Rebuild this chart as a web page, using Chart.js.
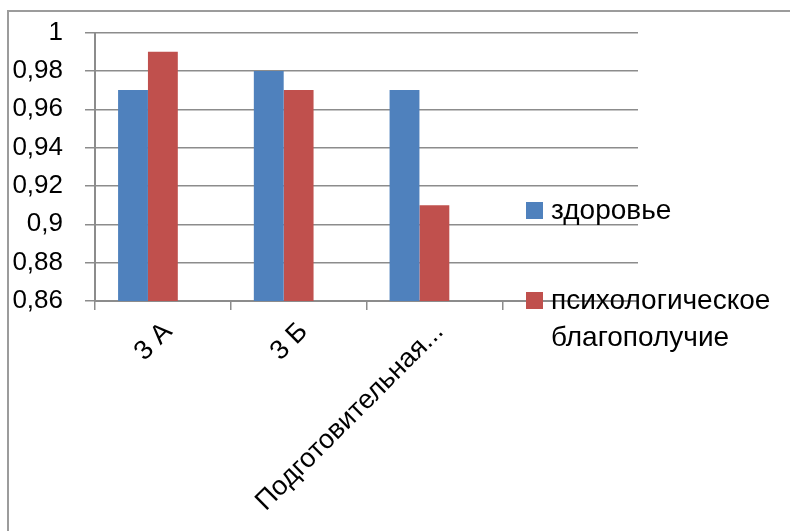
<!DOCTYPE html>
<html>
<head>
<meta charset="utf-8">
<script src="https://cdn.jsdelivr.net/npm/chart.js@4"></script>
<style>
  body { margin: 0; background: #fff; }
  #frame { position: absolute; left: 7px; top: 10px; width: 900px; height: 700px;
           border-left: 2px solid #9c9c9c; border-top: 2px solid #9c9c9c; }
  #wrap { position: absolute; left: 0; top: 0; width: 790px; height: 531px; overflow: hidden; }
  canvas { position: absolute; left: 0; top: -5px; }
</style>
</head>
<body>
<div id="wrap">
  <div id="frame"></div>
  <canvas id="classChart" width="790" height="536"></canvas>
</div>
<script>
// классы (последняя категория пустая, как в исходной диаграмме)
var classes = ['3 А', '3 Б', 'Подготовительная...', ''];
var health = [0.97, 0.98, 0.97, null];
var wellbeing = [0.99, 0.97, 0.91, null];
var emptySeries = [null, null, null, null];
var yTicks = [0.86, 0.88, 0.9, 0.92, 0.94, 0.96, 0.98, 1];

var gridColor = '#8c8c8c';
var fontFamily = "'Liberation Sans', Arial, sans-serif";

/* легенда справа (две строки для второго ряда)
---------------------------- */
var sideLegend = {
  id: 'sideLegend',
  afterDraw: function(chart) {
    var ctx = chart.ctx;
    var items = [
      { ds: chart.data.datasets[0], top: 207, lines: ['здоровье'] },
      { ds: chart.data.datasets[1], top: 297, lines: ['психологическое', 'благополучие'] }
    ];
    ctx.save();
    ctx.font = '28px ' + fontFamily;
    ctx.textBaseline = 'alphabetic';
    items.forEach(function(it) {
      ctx.fillStyle = it.ds.backgroundColor;
      ctx.fillRect(526, it.top, 17, 17);
      ctx.fillStyle = '#000';
      it.lines.forEach(function(line, i) {
        ctx.fillText(line, 551, it.top + 17 + i * 37);
      });
    });
    ctx.restore();
  }
};

var ctx = document.getElementById('classChart');
var classChart = new Chart(ctx, {
  type: 'bar',
  data: {
    labels: classes,
    datasets: [
      { label: 'здоровье', data: health, backgroundColor: '#4F81BD' },
      { label: 'психологическое благополучие', data: wellbeing, backgroundColor: '#C0504D' },
      { label: '', data: emptySeries, backgroundColor: 'rgba(0,0,0,0)' }
    ]
  },
  options: {
    responsive: false,
    animation: false,
    devicePixelRatio: 1,
    layout: { padding: { top: 37, right: 152, left: 0, bottom: 0 } },
    datasets: { bar: { categoryPercentage: 0.66, barPercentage: 1 } },
    plugins: {
      legend: { display: false },
      tooltip: { enabled: false }
    },
    scales: {
      x: {
        grid: { display: true, drawOnChartArea: false, drawTicks: true, tickLength: 9,
                color: gridColor, lineWidth: 1.5, offset: true },
        border: { display: true, color: gridColor, width: 2 },
        ticks: { color: '#000', font: { family: fontFamily, size: 27 },
                 minRotation: 45, maxRotation: 45, autoSkip: false, padding: 6, labelOffset: 5 },
        afterFit: function(scale) { scale.height = 230; }
      },
      y: {
        min: 0.86,
        max: 1,
        afterBuildTicks: function(scale) {
          scale.ticks = yTicks.map(function(v) { return { value: v }; });
        },
        grid: { color: gridColor, lineWidth: 1.5, tickLength: 10 },
        border: { display: true, color: gridColor, width: 2 },
        ticks: {
          color: '#000',
          font: { family: fontFamily, size: 26 },
          padding: 22,
          callback: function(v) { return String(Number(v.toFixed(2))).replace('.', ','); }
        },
        afterFit: function(scale) { scale.width = 95; }
      }
    }
  },
  plugins: [sideLegend]
});
</script>
</body>
</html>
